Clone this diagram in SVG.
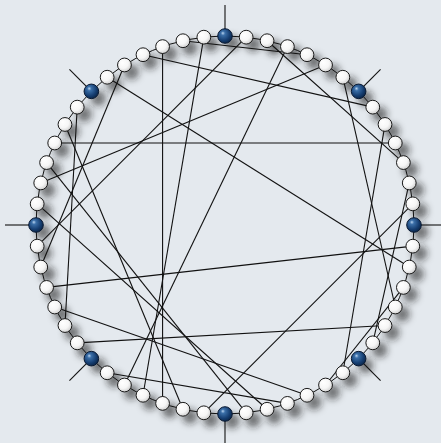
<svg xmlns="http://www.w3.org/2000/svg" width="441" height="443" viewBox="0 0 441 443">
<style>
.chord{stroke:#111;stroke-width:1.1;fill:none}
.pend{stroke:#111;stroke-width:1.1}
.ring{stroke:#111;stroke-width:1;fill:none}
.w{fill:url(#gw);stroke:#1a1a1a;stroke-width:1}
.b{fill:url(#gb);stroke:#0a1a33;stroke-width:1}
.sh{fill:#1a1a1a;opacity:0.6}
</style>
<defs>
<radialGradient id="gw" cx="40%" cy="38%" r="65%" fx="35%" fy="32%">
<stop offset="0" stop-color="#ffffff"/>
<stop offset="0.6" stop-color="#f6f6f6"/>
<stop offset="1" stop-color="#cfcfcf"/>
</radialGradient>
<radialGradient id="gb" cx="40%" cy="38%" r="65%" fx="35%" fy="30%">
<stop offset="0" stop-color="#b9d4f0"/>
<stop offset="0.22" stop-color="#3b6fa8"/>
<stop offset="0.7" stop-color="#153d70"/>
<stop offset="1" stop-color="#0b2547"/>
</radialGradient>
<filter id="blur" x="-50%" y="-50%" width="200%" height="200%">
<feGaussianBlur stdDeviation="3.5"/>
</filter>
</defs>
<rect width="441" height="443" fill="#e4e9ee"/>
<g id="shadows" filter="url(#blur)" transform="translate(7,7)">
<circle class="sh" cx="225" cy="36" r="7.5"/><circle class="sh" cx="246.16" cy="37.19" r="7.5"/><circle class="sh" cx="267.06" cy="40.74" r="7.5"/><circle class="sh" cx="287.42" cy="46.61" r="7.5"/><circle class="sh" cx="307" cy="54.72" r="7.5"/><circle class="sh" cx="325.55" cy="64.97" r="7.5"/><circle class="sh" cx="342.84" cy="77.23" r="7.5"/><circle class="sh" cx="358.64" cy="91.36" r="7.5"/>
<circle class="sh" cx="372.77" cy="107.16" r="7.5"/><circle class="sh" cx="385.03" cy="124.45" r="7.5"/><circle class="sh" cx="395.28" cy="143" r="7.5"/><circle class="sh" cx="403.39" cy="162.58" r="7.5"/><circle class="sh" cx="409.26" cy="182.94" r="7.5"/><circle class="sh" cx="412.81" cy="203.84" r="7.5"/><circle class="sh" cx="414" cy="225" r="7.5"/>
<circle class="sh" cx="412.81" cy="246.16" r="7.5"/><circle class="sh" cx="409.26" cy="267.06" r="7.5"/><circle class="sh" cx="403.39" cy="287.42" r="7.5"/><circle class="sh" cx="395.28" cy="307" r="7.5"/><circle class="sh" cx="385.03" cy="325.55" r="7.5"/><circle class="sh" cx="372.77" cy="342.84" r="7.5"/><circle class="sh" cx="358.64" cy="358.64" r="7.5"/>
<circle class="sh" cx="342.84" cy="372.77" r="7.5"/><circle class="sh" cx="325.55" cy="385.03" r="7.5"/><circle class="sh" cx="307" cy="395.28" r="7.5"/><circle class="sh" cx="287.42" cy="403.39" r="7.5"/><circle class="sh" cx="267.06" cy="409.26" r="7.5"/><circle class="sh" cx="246.16" cy="412.81" r="7.5"/><circle class="sh" cx="225" cy="414" r="7.5"/>
<circle class="sh" cx="203.84" cy="412.81" r="7.5"/><circle class="sh" cx="182.94" cy="409.26" r="7.5"/><circle class="sh" cx="162.58" cy="403.39" r="7.5"/><circle class="sh" cx="143" cy="395.28" r="7.5"/><circle class="sh" cx="124.45" cy="385.03" r="7.5"/><circle class="sh" cx="107.16" cy="372.77" r="7.5"/><circle class="sh" cx="91.36" cy="358.64" r="7.5"/>
<circle class="sh" cx="77.23" cy="342.84" r="7.5"/><circle class="sh" cx="64.97" cy="325.55" r="7.5"/><circle class="sh" cx="54.72" cy="307" r="7.5"/><circle class="sh" cx="46.61" cy="287.42" r="7.5"/><circle class="sh" cx="40.74" cy="267.06" r="7.5"/><circle class="sh" cx="37.19" cy="246.16" r="7.5"/><circle class="sh" cx="36" cy="225" r="7.5"/>
<circle class="sh" cx="37.19" cy="203.84" r="7.5"/><circle class="sh" cx="40.74" cy="182.94" r="7.5"/><circle class="sh" cx="46.61" cy="162.58" r="7.5"/><circle class="sh" cx="54.72" cy="143" r="7.5"/><circle class="sh" cx="64.97" cy="124.45" r="7.5"/><circle class="sh" cx="77.23" cy="107.16" r="7.5"/><circle class="sh" cx="91.36" cy="91.36" r="7.5"/>
<circle class="sh" cx="107.16" cy="77.23" r="7.5"/><circle class="sh" cx="124.45" cy="64.97" r="7.5"/><circle class="sh" cx="143" cy="54.72" r="7.5"/><circle class="sh" cx="162.58" cy="46.61" r="7.5"/><circle class="sh" cx="182.94" cy="40.74" r="7.5"/><circle class="sh" cx="203.84" cy="37.19" r="7.5"/>
</g>
<g id="connectors">
<circle class="ring" cx="225" cy="225" r="189"/>
<line class="chord" x1="54.72" y1="143" x2="395.28" y2="143"/>
<line class="chord" x1="162.58" y1="46.61" x2="162.58" y2="403.39"/>
<line class="chord" x1="77.23" y1="107.16" x2="64.97" y2="325.55"/>
<line class="chord" x1="143" y1="54.72" x2="372.77" y2="107.16"/>
<line class="chord" x1="40.74" y1="182.94" x2="325.55" y2="64.97"/>
<line class="chord" x1="267.06" y1="40.74" x2="403.39" y2="162.58"/>
<line class="chord" x1="287.42" y1="46.61" x2="124.45" y2="385.03"/>
<line class="chord" x1="182.94" y1="40.74" x2="307" y2="54.72"/>
<line class="chord" x1="203.84" y1="37.19" x2="143" y2="395.28"/>
<line class="chord" x1="246.16" y1="37.19" x2="37.19" y2="246.16"/>
<line class="chord" x1="124.45" y1="64.97" x2="40.74" y2="267.06"/>
<line class="chord" x1="46.61" y1="287.42" x2="412.81" y2="246.16"/>
<line class="chord" x1="54.72" y1="307" x2="307" y2="395.28"/>
<line class="chord" x1="77.23" y1="342.84" x2="385.03" y2="325.55"/>
<line class="chord" x1="107.16" y1="372.77" x2="287.42" y2="403.39"/>
<line class="chord" x1="64.97" y1="124.45" x2="182.94" y2="409.26"/>
<line class="chord" x1="37.19" y1="203.84" x2="267.06" y2="409.26"/>
<line class="chord" x1="46.61" y1="162.58" x2="246.16" y2="412.81"/>
<line class="chord" x1="107.16" y1="77.23" x2="409.26" y2="267.06"/>
<line class="chord" x1="342.84" y1="77.23" x2="395.28" y2="307"/>
<line class="chord" x1="385.03" y1="124.45" x2="342.84" y2="372.77"/>
<line class="chord" x1="409.26" y1="182.94" x2="372.77" y2="342.84"/>
<line class="chord" x1="412.81" y1="203.84" x2="203.84" y2="412.81"/>
<line class="chord" x1="403.39" y1="287.42" x2="325.55" y2="385.03"/>
<line class="pend" x1="225" y1="36" x2="225" y2="5"/>
<line class="pend" x1="358.64" y1="91.36" x2="380.56" y2="69.44"/>
<line class="pend" x1="414" y1="225" x2="445" y2="225"/>
<line class="pend" x1="358.64" y1="358.64" x2="380.56" y2="380.56"/>
<line class="pend" x1="225" y1="414" x2="225" y2="445"/>
<line class="pend" x1="91.36" y1="358.64" x2="69.44" y2="380.56"/>
<line class="pend" x1="36" y1="225" x2="5" y2="225"/>
<line class="pend" x1="91.36" y1="91.36" x2="69.44" y2="69.44"/>
</g>
<g id="nodes">
<g id="n0"><circle class="b" cx="225" cy="36" r="7.3"/></g>
<g id="n1"><circle class="w" cx="246.16" cy="37.19" r="6.9"/></g>
<g id="n2"><circle class="w" cx="267.06" cy="40.74" r="6.9"/></g>
<g id="n3"><circle class="w" cx="287.42" cy="46.61" r="6.9"/></g>
<g id="n4"><circle class="w" cx="307" cy="54.72" r="6.9"/></g>
<g id="n5"><circle class="w" cx="325.55" cy="64.97" r="6.9"/></g>
<g id="n6"><circle class="w" cx="342.84" cy="77.23" r="6.9"/></g>
<g id="n7"><circle class="b" cx="358.64" cy="91.36" r="7.3"/></g>
<g id="n8"><circle class="w" cx="372.77" cy="107.16" r="6.9"/></g>
<g id="n9"><circle class="w" cx="385.03" cy="124.45" r="6.9"/></g>
<g id="n10"><circle class="w" cx="395.28" cy="143" r="6.9"/></g>
<g id="n11"><circle class="w" cx="403.39" cy="162.58" r="6.9"/></g>
<g id="n12"><circle class="w" cx="409.26" cy="182.94" r="6.9"/></g>
<g id="n13"><circle class="w" cx="412.81" cy="203.84" r="6.9"/></g>
<g id="n14"><circle class="b" cx="414" cy="225" r="7.3"/></g>
<g id="n15"><circle class="w" cx="412.81" cy="246.16" r="6.9"/></g>
<g id="n16"><circle class="w" cx="409.26" cy="267.06" r="6.9"/></g>
<g id="n17"><circle class="w" cx="403.39" cy="287.42" r="6.9"/></g>
<g id="n18"><circle class="w" cx="395.28" cy="307" r="6.9"/></g>
<g id="n19"><circle class="w" cx="385.03" cy="325.55" r="6.9"/></g>
<g id="n20"><circle class="w" cx="372.77" cy="342.84" r="6.9"/></g>
<g id="n21"><circle class="b" cx="358.64" cy="358.64" r="7.3"/></g>
<g id="n22"><circle class="w" cx="342.84" cy="372.77" r="6.9"/></g>
<g id="n23"><circle class="w" cx="325.55" cy="385.03" r="6.9"/></g>
<g id="n24"><circle class="w" cx="307" cy="395.28" r="6.9"/></g>
<g id="n25"><circle class="w" cx="287.42" cy="403.39" r="6.9"/></g>
<g id="n26"><circle class="w" cx="267.06" cy="409.26" r="6.9"/></g>
<g id="n27"><circle class="w" cx="246.16" cy="412.81" r="6.9"/></g>
<g id="n28"><circle class="b" cx="225" cy="414" r="7.3"/></g>
<g id="n29"><circle class="w" cx="203.84" cy="412.81" r="6.9"/></g>
<g id="n30"><circle class="w" cx="182.94" cy="409.26" r="6.9"/></g>
<g id="n31"><circle class="w" cx="162.58" cy="403.39" r="6.9"/></g>
<g id="n32"><circle class="w" cx="143" cy="395.28" r="6.9"/></g>
<g id="n33"><circle class="w" cx="124.45" cy="385.03" r="6.9"/></g>
<g id="n34"><circle class="w" cx="107.16" cy="372.77" r="6.9"/></g>
<g id="n35"><circle class="b" cx="91.36" cy="358.64" r="7.3"/></g>
<g id="n36"><circle class="w" cx="77.23" cy="342.84" r="6.9"/></g>
<g id="n37"><circle class="w" cx="64.97" cy="325.55" r="6.9"/></g>
<g id="n38"><circle class="w" cx="54.72" cy="307" r="6.9"/></g>
<g id="n39"><circle class="w" cx="46.61" cy="287.42" r="6.9"/></g>
<g id="n40"><circle class="w" cx="40.74" cy="267.06" r="6.9"/></g>
<g id="n41"><circle class="w" cx="37.19" cy="246.16" r="6.9"/></g>
<g id="n42"><circle class="b" cx="36" cy="225" r="7.3"/></g>
<g id="n43"><circle class="w" cx="37.19" cy="203.84" r="6.9"/></g>
<g id="n44"><circle class="w" cx="40.74" cy="182.94" r="6.9"/></g>
<g id="n45"><circle class="w" cx="46.61" cy="162.58" r="6.9"/></g>
<g id="n46"><circle class="w" cx="54.72" cy="143" r="6.9"/></g>
<g id="n47"><circle class="w" cx="64.97" cy="124.45" r="6.9"/></g>
<g id="n48"><circle class="w" cx="77.23" cy="107.16" r="6.9"/></g>
<g id="n49"><circle class="b" cx="91.36" cy="91.36" r="7.3"/></g>
<g id="n50"><circle class="w" cx="107.16" cy="77.23" r="6.9"/></g>
<g id="n51"><circle class="w" cx="124.45" cy="64.97" r="6.9"/></g>
<g id="n52"><circle class="w" cx="143" cy="54.72" r="6.9"/></g>
<g id="n53"><circle class="w" cx="162.58" cy="46.61" r="6.9"/></g>
<g id="n54"><circle class="w" cx="182.94" cy="40.74" r="6.9"/></g>
<g id="n55"><circle class="w" cx="203.84" cy="37.19" r="6.9"/></g>
</g>
</svg>
